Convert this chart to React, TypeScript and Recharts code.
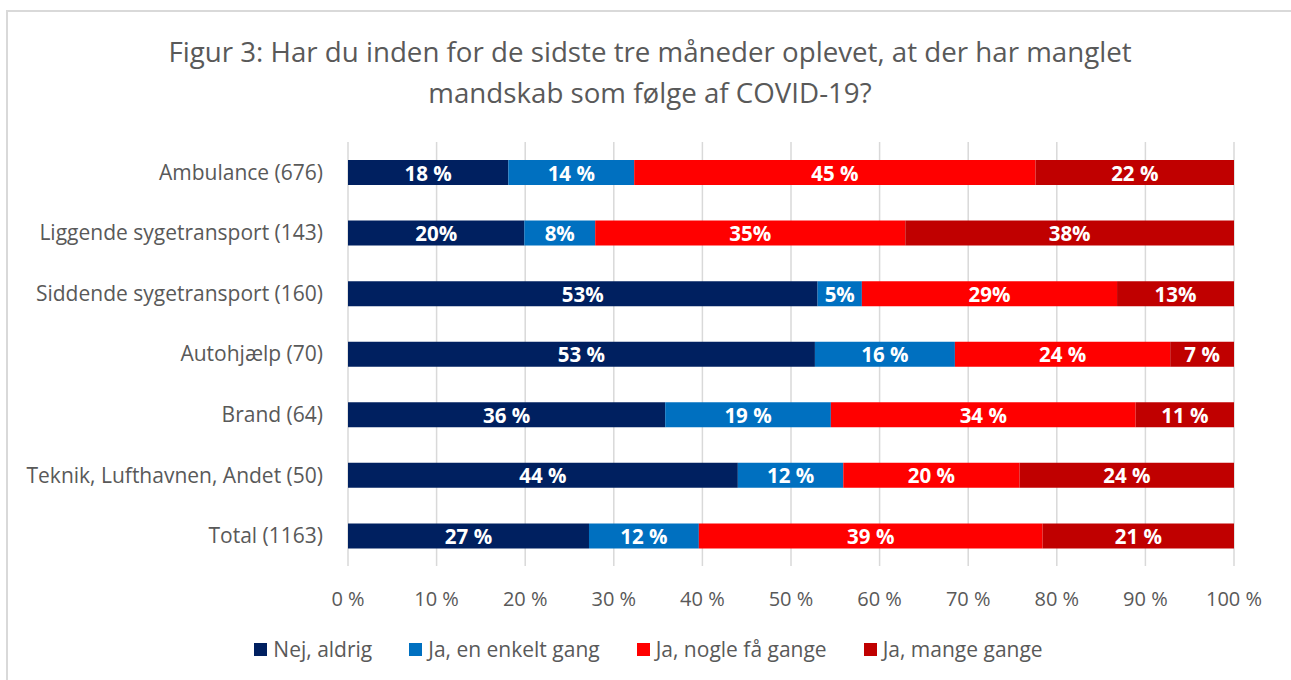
import React from 'react';
import { BarChart, Bar, XAxis, YAxis, CartesianGrid, LabelList } from 'recharts';

const categories = [
  'Ambulance (676)',
  'Liggende sygetransport (143)',
  'Siddende sygetransport (160)',
  'Autohjælp (70)',
  'Brand (64)',
  'Teknik, Lufthavnen, Andet (50)',
  'Total (1163)',
];

const seriesNames = ['Nej, aldrig', 'Ja, en enkelt gang', 'Ja, nogle få gange', 'Ja, mange gange'];
const seriesColors = ['#002060', '#0070C0', '#FF0000', '#C00000'];

const nejAldrig = [18.1, 19.9, 53.0, 52.7, 35.8, 44.0, 27.2];
const enkeltGang = [14.2, 8.0, 5.0, 15.8, 18.7, 11.9, 12.4];
const nogleFaa = [45.3, 35.0, 28.8, 24.3, 34.4, 19.9, 38.8];
const mangeGange = [22.4, 37.1, 13.2, 7.2, 11.1, 24.2, 21.6];

const nejLabels = ['18 %', '20%', '53%', '53 %', '36 %', '44 %', '27 %'];
const enkeltLabels = ['14 %', '8%', '5%', '16 %', '19 %', '12 %', '12 %'];
const nogleLabels = ['45 %', '35%', '29%', '24 %', '34 %', '20 %', '39 %'];
const mangeLabels = ['22 %', '38%', '13%', '7 %', '11 %', '24 %', '21 %'];

const xTicks = [0, 10, 20, 30, 40, 50, 60, 70, 80, 90, 100];

const titleLines = [
  'Figur 3: Har du inden for de sidste tre måneder oplevet, at der har manglet',
  'mandskab som følge af COVID-19?',
];

const data = categories.map((c, i) => ({
  name: c,
  s0: nejAldrig[i],
  s1: enkeltGang[i],
  s2: nogleFaa[i],
  s3: mangeGange[i],
  l0: nejLabels[i],
  l1: enkeltLabels[i],
  l2: nogleLabels[i],
  l3: mangeLabels[i],
}));

const FONT = '"Open Sans", Lato, sans-serif';
const GREY = '#595959';

const renderLabel = (props: any) => {
  const { x, y, width, height, value } = props;
  return (
    <text
      x={Number(x) + Number(width) / 2}
      y={Number(y) + Number(height) / 2}
      textAnchor="middle"
      dominantBaseline="central"
      fill="#ffffff"
      fontSize={20.5}
      fontWeight={700}
      fontFamily={FONT}
    >
      {value}
    </text>
  );
};

export default function App() {
  return (
    <div style={{ position: 'absolute', left: 0, top: 0, width: 1291, height: 680, overflow: 'hidden', background: '#fff', fontFamily: FONT }}>
      <div style={{ position: 'absolute', left: 6, top: 10, width: 1400, height: 800, border: '2px solid #d9d9d9', boxSizing: 'border-box' }} />
      <div style={{ position: 'absolute', left: 0, top: 31, width: 1300, textAlign: 'center', color: GREY, fontSize: 27.7, lineHeight: '41px' }}>
        {titleLines.map((t, i) => (
          <div key={i}>{t}</div>
        ))}
      </div>
      <div style={{ position: 'absolute', left: 0, top: 0 }}>
        <BarChart
          width={1291}
          height={680}
          data={data}
          layout="vertical"
          margin={{ top: 142, right: 57, bottom: 84, left: 0 }}
          barSize={25}
        >
          <CartesianGrid horizontal={false} vertical={true} stroke="#d9d9d9" strokeWidth={1.5} />
          <XAxis
            type="number"
            domain={[0, 100]}
            ticks={xTicks}
            tickFormatter={(v: number) => `${v} %`}
            axisLine={false}
            tickLine={false}
            tickSize={0}
            tickMargin={26}
            tick={{ fill: GREY, fontSize: 20, fontFamily: FONT }}
            interval={0}
          />
          <YAxis
            type="category"
            dataKey="name"
            width={348}
            axisLine={false}
            tickLine={false}
            tickSize={0}
            tickMargin={25}
            tick={{ fill: GREY, fontSize: 21, fontFamily: FONT }}
            interval={0}
          />
          {seriesNames.map((n, i) => (
            <Bar key={n} dataKey={`s${i}`} name={n} stackId="a" fill={seriesColors[i]} isAnimationActive={false}>
              <LabelList dataKey={`l${i}`} content={renderLabel} />
            </Bar>
          ))}
        </BarChart>
      </div>
      <div style={{ position: 'absolute', left: 3, top: 634, width: 1291, display: 'flex', justifyContent: 'center', color: GREY, fontSize: 21, lineHeight: '30px' }}>
        {seriesNames.map((n, i) => (
          <div key={n} style={{ display: 'flex', alignItems: 'center', marginLeft: i === 0 ? 0 : 37 }}>
            <span style={{ display: 'inline-block', width: 13, height: 13, background: seriesColors[i], marginRight: 6 }} />
            <span>{n}</span>
          </div>
        ))}
      </div>
    </div>
  );
}
